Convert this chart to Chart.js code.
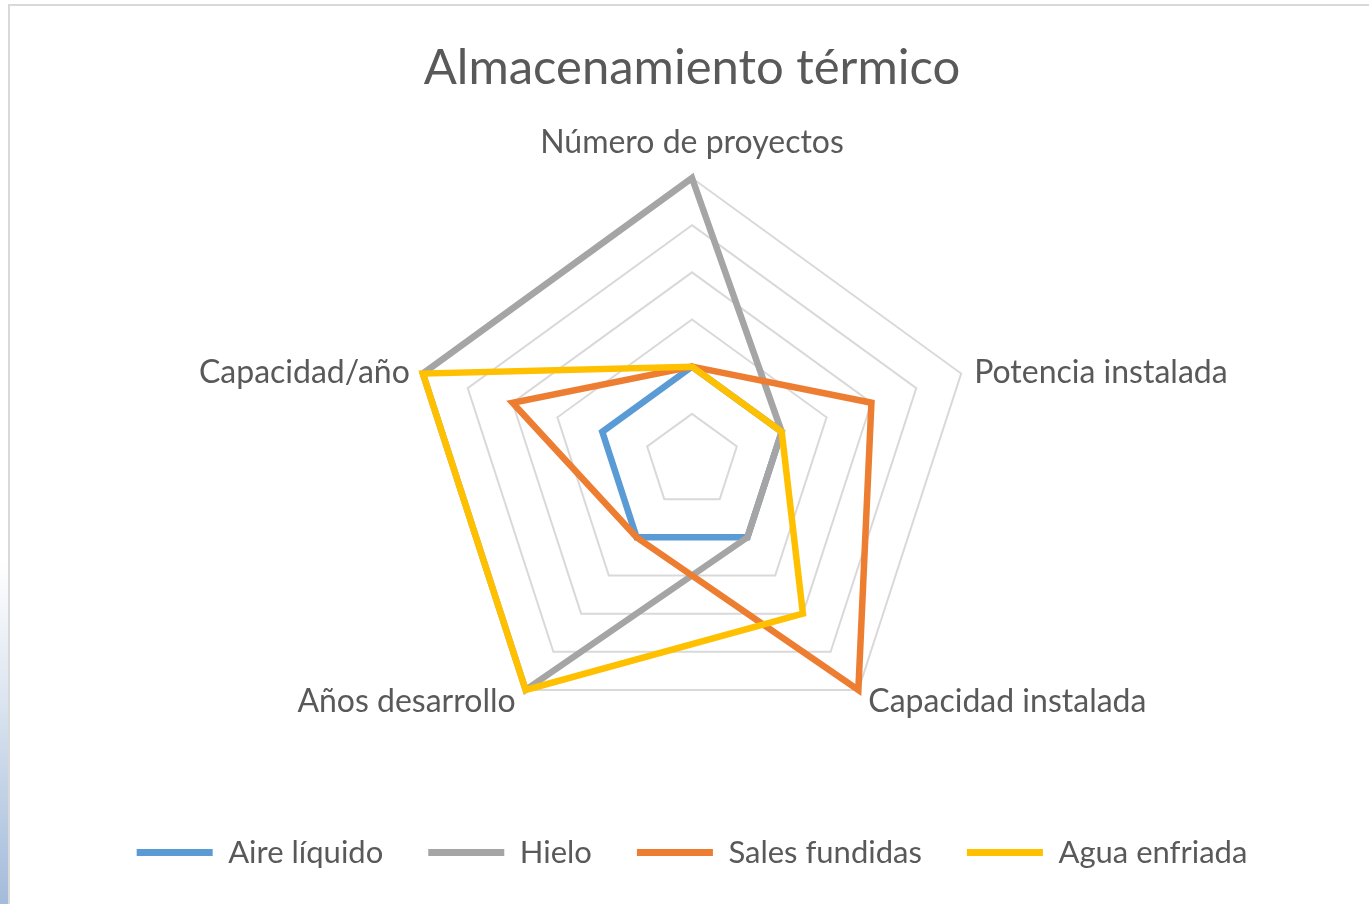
<!DOCTYPE html>
<html>
<head>
<meta charset="utf-8">
<script src="https://cdn.jsdelivr.net/npm/chart.js@4"></script>
<style>
  html, body { margin: 0; padding: 0; background: #fff; overflow: hidden; }
  #strip { position: absolute; left: 0; top: 0; width: 8px; height: 904px;
    background: linear-gradient(to bottom, #ffffff 0%, #ffffff 62%, #dfe7f1 76%, #a3bbdb 100%); }
  #frame { position: absolute; left: 8px; top: 4px; width: 1380px; height: 920px;
    border: 2px solid #d9d9d9; box-sizing: border-box; }
  #wrap { position: absolute; left: 10px; top: 6px; width: 1359px; height: 898px; }
</style>
</head>
<body>
<div id="strip"></div>
<div id="frame"></div>
<div id="wrap"><canvas id="radar"></canvas></div>
<script>
// datos
const categorias = ['Número de proyectos', 'Potencia instalada', 'Capacidad instalada', 'Años desarrollo', 'Capacidad/año'];
const aireLiquido = [2, 2, 2, 2, 2];
const hielo = [6, 2, 2, 6, 6];
const salesFundidas = [2, 4, 6, 2, 4];
const aguaEnfriada = [2, 2, 4, 6, 6];

const fuente = 'Lato, "Open Sans", sans-serif';
const gris = '#595959';

function serie(label, data, color, orden) {
  return {
    label: label,
    data: data,
    borderColor: color,
    backgroundColor: color,
    borderWidth: 6.5,
    fill: false,
    pointRadius: 0,
    pointHoverRadius: 0,
    order: orden
  };
}

// etiquetas de los ejes, colocadas como en Excel (centradas junto al vértice)
const etiquetasEjes = {
  id: 'etiquetasEjes',
  afterDraw(chart) {
    const r = chart.scales.r;
    const c = chart.ctx;
    c.save();
    c.font = '32px ' + fuente;
    c.fillStyle = gris;
    c.textBaseline = 'alphabetic';
    categorias.forEach((txt, i) => {
      const p = r.getPointPosition(i, r.drawingArea);
      let x = p.x, y = p.y;
      if (Math.abs(p.x - r.xCenter) < 2) {
        c.textAlign = 'center';
        y -= 25;
      } else {
        const arriba = p.y < r.yCenter;
        const dx = arriba ? 13 : 10;
        y += arriba ? 9 : 22;
        if (p.x > r.xCenter) { c.textAlign = 'left'; x += dx; }
        else { c.textAlign = 'right'; x -= dx; }
      }
      c.fillText(txt, x, y);
    });
    c.restore();
  }
};

const ctx = document.getElementById('radar').getContext('2d');
new Chart(ctx, {
  type: 'radar',
  data: {
    labels: categorias,
    datasets: [
      serie('Aire líquido', aireLiquido, '#5B9BD5', 4),
      serie('Hielo', hielo, '#A5A5A5', 3),
      serie('Sales fundidas', salesFundidas, '#ED7D31', 2),
      serie('Agua enfriada', aguaEnfriada, '#FFC000', 1)
    ]
  },
  plugins: [etiquetasEjes],
  options: {
    responsive: true,
    maintainAspectRatio: false,
    animation: false,
    layout: { padding: { top: 0, bottom: 26, left: 5, right: 0 } },
    plugins: {
      title: {
        display: true,
        text: 'Almacenamiento térmico',
        color: gris,
        font: { family: fuente, size: 49, weight: 'normal' },
        padding: { top: 33, bottom: 81 }
      },
      legend: {
        position: 'bottom',
        title: { display: true, text: '', font: { size: 10 }, padding: { top: 0, bottom: 35 } },
        labels: {
          color: gris,
          font: { family: fuente, size: 31 },
          boxWidth: 76,
          boxHeight: 7,
          padding: 45,
          useBorderRadius: true,
          borderRadius: 3,
          generateLabels: (chart) => chart.data.datasets.map((ds, i) => ({
            text: ds.label,
            fillStyle: ds.borderColor,
            strokeStyle: ds.borderColor,
            lineWidth: 0,
            fontColor: gris,
            datasetIndex: i,
            hidden: false
          }))
        }
      },
      tooltip: { enabled: false }
    },
    scales: {
      r: {
        min: 0,
        max: 6,
        ticks: { stepSize: 1, display: false },
        angleLines: { display: false },
        grid: { color: '#d9d9d9', lineWidth: 2 },
        pointLabels: { display: false }
      }
    }
  }
});
</script>
</body>
</html>
